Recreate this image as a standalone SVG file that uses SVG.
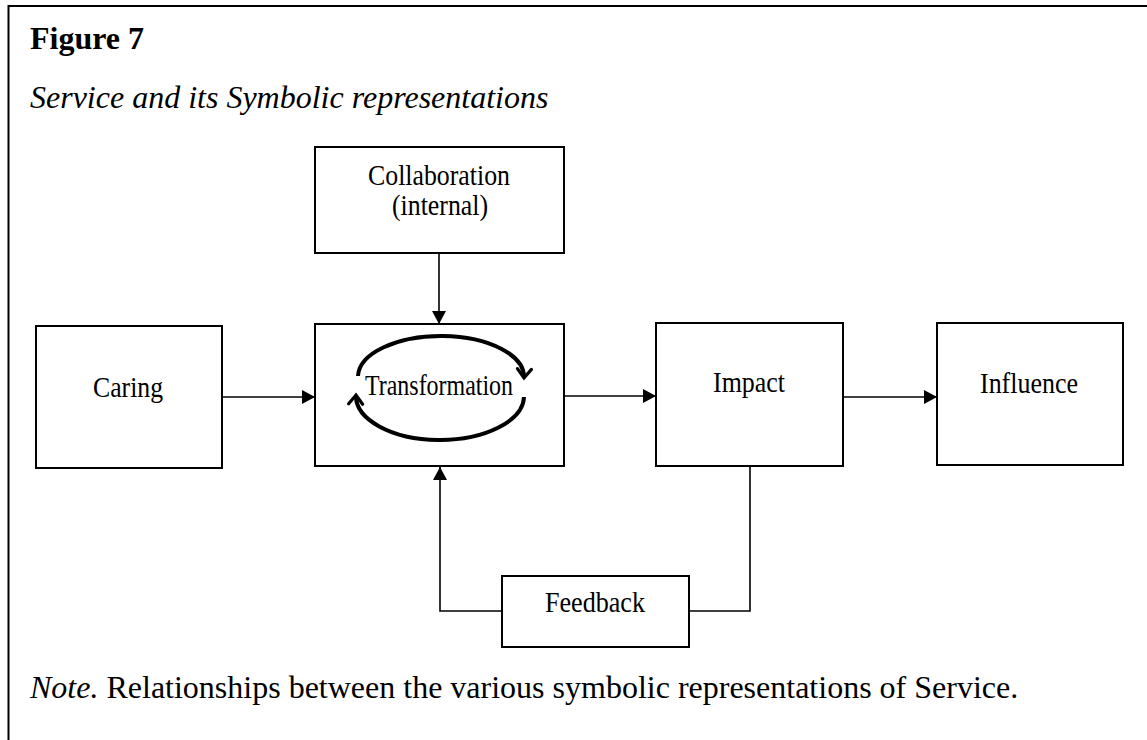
<svg xmlns="http://www.w3.org/2000/svg" width="1147" height="740" viewBox="0 0 1147 740">
<defs>
<style>
.box{fill:#fff;stroke:#000;stroke-width:2}
.lbl{font-family:"Liberation Serif","Times New Roman",serif;font-size:30px;fill:#000}
.cap{font-family:"Liberation Serif","Times New Roman",serif;font-size:32px;fill:#000}
.conn{fill:none;stroke:#000;stroke-width:1.6}
.loop{fill:none;stroke:#000;stroke-width:4}
</style>
<marker id="arr" markerUnits="userSpaceOnUse" markerWidth="14" markerHeight="14" refX="13" refY="7" orient="auto">
<path d="M0,0 L13,7 L0,14 z" fill="#000"/>
</marker>
<marker id="chev" markerUnits="userSpaceOnUse" markerWidth="16" markerHeight="16" refX="10" refY="8" orient="auto" overflow="visible">
<path d="M1,1 L10,8 L1,15" fill="none" stroke="#000" stroke-width="3.2" stroke-linecap="round" stroke-linejoin="miter"/>
</marker>
</defs>
<rect width="1147" height="740" fill="#fff"/>
<path d="M8.5,740 L8.5,6 L1147,6" fill="none" stroke="#000" stroke-width="2"/>
<text class="cap" x="30" y="49" font-weight="bold">Figure 7</text>
<text class="cap" x="30" y="108" font-style="italic">Service and its Symbolic representations</text>
<text class="cap" x="30" y="698"><tspan font-style="italic">Note.</tspan> Relationships between the various symbolic representations of Service.</text>

<g id="connectors">
<line class="conn" x1="222" y1="397" x2="315" y2="397" marker-end="url(#arr)"/>
<line class="conn" x1="564" y1="396" x2="656" y2="396" marker-end="url(#arr)"/>
<line class="conn" x1="843" y1="397" x2="937" y2="397" marker-end="url(#arr)"/>
<line class="conn" x1="439" y1="254" x2="439" y2="324" stroke-width="1.2" marker-end="url(#arr)"/>
<polyline class="conn" points="502,611 440,611 440,467" stroke-width="1.3" marker-end="url(#arr)"/>
<polyline class="conn" points="689,611 750,611 750,466" stroke-width="1.3"/>
</g>

<g id="caring">
<rect class="box" x="36" y="326" width="186" height="142"/>
<text class="lbl" x="128" y="397" text-anchor="middle" textLength="70" lengthAdjust="spacingAndGlyphs">Caring</text>
</g>
<g id="collaboration">
<rect class="box" x="315" y="147" width="249" height="106"/>
<text class="lbl" x="439" y="185" text-anchor="middle" textLength="142" lengthAdjust="spacingAndGlyphs">Collaboration</text>
<text class="lbl" x="440" y="215" text-anchor="middle" textLength="96" lengthAdjust="spacingAndGlyphs">(internal)</text>
</g>
<g id="transformation">
<rect class="box" x="315" y="324" width="249" height="142"/>
<text class="lbl" x="439" y="395" text-anchor="middle" textLength="148" lengthAdjust="spacingAndGlyphs">Transformation</text>
<path class="loop" d="M358,376 A83,41 0 0 1 524,378" marker-end="url(#chev)"/>
<path class="loop" d="M524,397 A84,44 0 0 1 356,395" marker-end="url(#chev)"/>
</g>
<g id="impact">
<rect class="box" x="656" y="323" width="187" height="143"/>
<text class="lbl" x="749" y="392" text-anchor="middle" textLength="72" lengthAdjust="spacingAndGlyphs">Impact</text>
</g>
<g id="influence">
<rect class="box" x="937" y="323" width="186" height="142"/>
<text class="lbl" x="1029" y="393" text-anchor="middle" textLength="98" lengthAdjust="spacingAndGlyphs">Influence</text>
</g>
<g id="feedback">
<rect class="box" x="502" y="576" width="187" height="71"/>
<text class="lbl" x="595" y="612" text-anchor="middle" textLength="100" lengthAdjust="spacingAndGlyphs">Feedback</text>
</g>
</svg>
